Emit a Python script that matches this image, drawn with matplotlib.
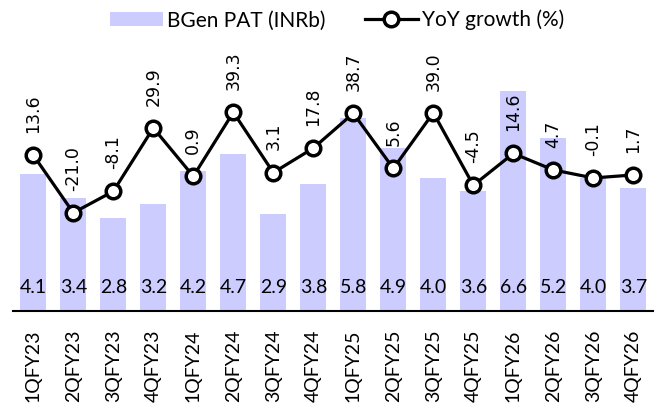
import numpy as np
import matplotlib.pyplot as plt

quarters = ['1QFY23', '2QFY23', '3QFY23', '4QFY23', '1QFY24', '2QFY24', '3QFY24', '4QFY24',
            '1QFY25', '2QFY25', '3QFY25', '4QFY25', '1QFY26', '2QFY26', '3QFY26', '4QFY26']
pat = [4.1, 3.4, 2.8, 3.2, 4.2, 4.7, 2.9, 3.8, 5.8, 4.9, 4.0, 3.6, 6.6, 5.2, 4.0, 3.7]
yoy = [13.6, -21.0, -8.1, 29.9, 0.9, 39.3, 3.1, 17.8, 38.7, 5.6, 39.0, -4.5, 14.6, 4.7, -0.1, 1.7]

BAR = '#CCCCFF'
FONT = 'Lato'

fig = plt.figure(figsize=(6.66, 4.11), dpi=100)
ax = fig.add_axes([0.02, 0.243, 0.961, 0.73])
x = np.arange(len(quarters))

bars = ax.bar(x, pat, width=0.65, color=BAR, label='BGen PAT (INRb)', zorder=1)
for xi, v in zip(x, pat):
    ax.text(xi, 0.72, f'{v:.1f}', ha='center', va='center', fontsize=14, family=FONT)

ax.set_ylim(0, 9)
ax.set_xlim(-0.5, 15.5)
ax.set_yticks([])
for s in ['top', 'left', 'right']:
    ax.spines[s].set_visible(False)
ax.spines['bottom'].set_linewidth(1.5)
ax.set_xticks(x)
ax.set_xticklabels(quarters, rotation=90, fontsize=14, family=FONT)
ax.tick_params(axis='x', length=0, pad=13)

# growth line on secondary axis
ax2 = ax.twinx()
line, = ax2.plot(x, yoy, color='black', lw=2.3, marker='o', ms=10.5,
                 mfc='white', mec='black', mew=2.5, label='YoY growth (%)', zorder=3)
ax2.set_ylim(-80, 100)
ax2.set_yticks([])
for s in ax2.spines.values():
    s.set_visible(False)
for xi, v in zip(x, yoy):
    ax2.annotate(f'{v:.1f}', (xi, v), xytext=(0, 16), textcoords='offset points',
                 rotation=90, ha='center', va='bottom', fontsize=12.5, family='DejaVu Sans')

fig.legend([bars, line], ['BGen PAT (INRb)', 'YoY growth (%)'], loc='center',
           bbox_to_anchor=(0.506, 0.951), ncol=2, frameon=False,
           prop={'family': FONT, 'size': 15}, handlelength=2.55, columnspacing=1.9,
           handletextpad=0.2)

fig.savefig('out.png', dpi=100)
